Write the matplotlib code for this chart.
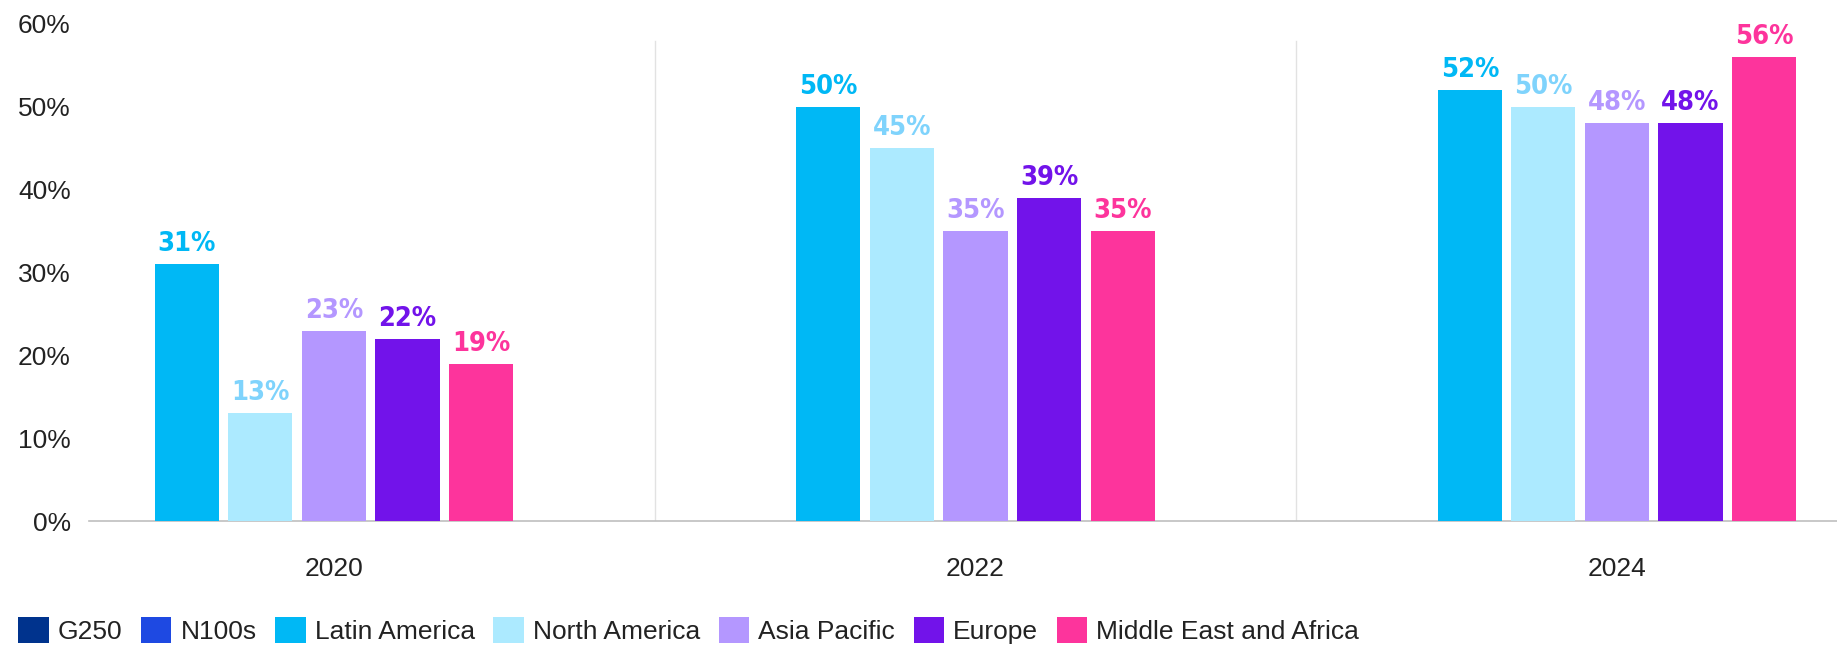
import numpy as np
import matplotlib
matplotlib.use('Agg')
from matplotlib import pyplot as plt
from matplotlib.patches import Patch
from matplotlib import font_manager

# Data
years = ['2020', '2022', '2024']
regions = ['Latin America', 'North America', 'Asia Pacific', 'Europe', 'Middle East and Africa']
latin_america = [31, 50, 52]
north_america = [13, 45, 50]
asia_pacific = [23, 35, 48]
europe = [22, 39, 48]
mea = [19, 35, 56]

legend_names = ['G250', 'N100s'] + regions
legend_colors = ['#00338D', '#1E49E2', '#00B8F5', '#ACEAFF', '#B497FF', '#7213EA', '#FD349C']
bar_colors = legend_colors[2:]
label_colors = ['#00B8F5', '#7FD3FC', '#B497FF', '#7213EA', '#FD349C']

series = [latin_america, north_america, asia_pacific, europe, mea]

plt.rcParams['font.family'] = ['Liberation Sans', 'DejaVu Sans']

# pick a narrow bold face for the value labels if one is there
names = set(f.name for f in font_manager.fontManager.ttflist)
if 'Liberation Sans Narrow' in names:
    lab_font = dict(family='Liberation Sans Narrow', fontweight='bold')
else:
    lab_font = dict(family='DejaVu Sans', fontweight='bold', fontstretch='condensed')

fig = plt.figure(figsize=(18.37, 6.45), dpi=100)
ax = fig.add_axes([0.0484, 0.192, 0.9516, 0.803])

x = np.arange(len(years))
width = 0.1
step = 0.1147
for i, vals in enumerate(series):
    pos = x + (i - 2) * step
    ax.bar(pos, [v / 100 for v in vals], width=width, color=bar_colors[i], zorder=3)
    for p, v in zip(pos, vals):
        ax.annotate('%d%%' % v, (p, v / 100), xytext=(0, 5), textcoords='offset points',
                    ha='center', va='bottom', color=label_colors[i],
                    fontsize=19.5, **lab_font)

# group separators
for sep in [0.5, 1.5]:
    ax.axvline(sep, ymin=0, ymax=0.58 / 0.625, color='#E2E2E2', lw=1, zorder=1)

ax.set_xlim(-0.382, 2.343)
ax.set_ylim(0, 0.625)
ax.set_yticks(np.arange(0, 0.61, 0.1))
ax.set_yticklabels(['%d%%' % (t * 100) for t in np.arange(0, 0.61, 0.1)])
ax.set_xticks(x)
ax.set_xticklabels(years)
ax.tick_params(axis='both', length=0, labelsize=19, colors='#222222')
ax.tick_params(axis='x', pad=26)
ax.tick_params(axis='y', pad=13)

for s in ['top', 'right', 'left']:
    ax.spines[s].set_visible(False)
ax.spines['bottom'].set_color('#BFBFBF')
ax.spines['bottom'].set_linewidth(1.2)

handles = [Patch(facecolor=c, edgecolor='none') for c in legend_colors]
fig.legend(handles, legend_names, loc='lower left', bbox_to_anchor=(0.01, 0.002),
           ncol=7, frameon=False, fontsize=19, handlelength=1.15, handleheight=1.15,
           handletextpad=0.35, columnspacing=0.7, borderpad=0, borderaxespad=0,
           labelcolor='#222222')

fig.savefig('out.png', dpi=100)
